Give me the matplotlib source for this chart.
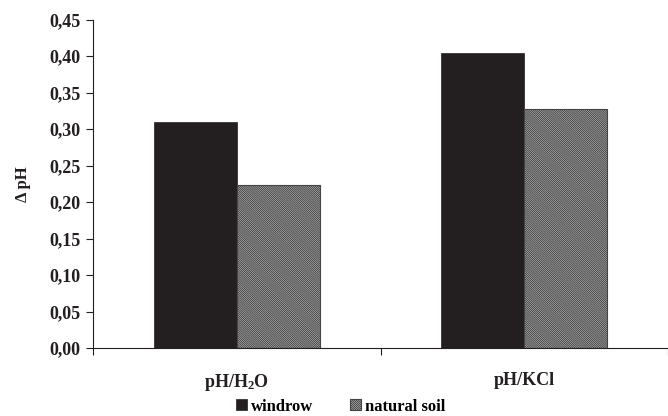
import matplotlib
matplotlib.use("Agg")
import matplotlib.pyplot as plt
import numpy as np

categories = ["pH/H$_\\mathregular{2}$O", "pH/KCl"]
windrow = [0.310, 0.404]
natural_soil = [0.223, 0.327]
series_names = ["windrow", "natural soil"]
yticks = [0.00, 0.05, 0.10, 0.15, 0.20, 0.25, 0.30, 0.35, 0.40, 0.45]

plt.rcParams['font.family'] = ['Liberation Serif', 'DejaVu Serif']
plt.rcParams['font.weight'] = 'bold'
plt.rcParams['mathtext.default'] = 'regular'
plt.rcParams['hatch.linewidth'] = 0.8
plt.rcParams['hatch.color'] = '#606060'

dark = '#231f20'
fig = plt.figure(figsize=(6.68, 4.16), dpi=100)
ax = fig.add_axes([93/668, 1-348/416, 1-93/668, (348-19.5)/416])

x = np.arange(len(categories))
w = 0.288
b1 = ax.bar(x - w/2, windrow, w, color=dark, edgecolor=dark, linewidth=0.5, label=series_names[0])
b2 = ax.bar(x + w/2, natural_soil, w, color='white', edgecolor='#444444', linewidth=0.8,
            hatch='\\' * 16, label=series_names[1])

ax.set_xlim(-0.5, 1.5)
ax.set_ylim(0, 0.45)
ax.set_yticks(yticks)
ax.set_yticklabels([f"{v:.2f}".replace('.', ',') for v in yticks], fontsize=13, fontweight='bold', color=dark)
ax.set_xticks([-0.5, 0.5, 1.5])
ax.set_xticklabels([])
ax.set_xticks(x, minor=True)
ax.set_xticklabels(categories, minor=True, fontsize=13, fontweight='bold', color=dark)
ax.tick_params(axis='x', which='minor', length=0, pad=17)
ax.tick_params(axis='x', which='major', length=5, width=0.8, direction='out', color=dark)
ax.tick_params(axis='y', length=5, width=0.8, direction='out', color=dark, pad=4)
for s in ['top', 'right']:
    ax.spines[s].set_visible(False)
for s in ['left', 'bottom']:
    ax.spines[s].set_color(dark)
    ax.spines[s].set_linewidth(0.8)

ax.set_ylabel("Δ pH", fontsize=12, fontweight='bold', color=dark, labelpad=13)

fig.legend(handles=[b1, b2], loc='lower center', bbox_to_anchor=(0.51, -0.033), ncol=2,
           frameon=False, handlelength=0.65, handleheight=0.65,
           handletextpad=0.25, columnspacing=2.2, prop={'weight': 'bold', 'size': 12})

fig.savefig("out.png", dpi=100)
